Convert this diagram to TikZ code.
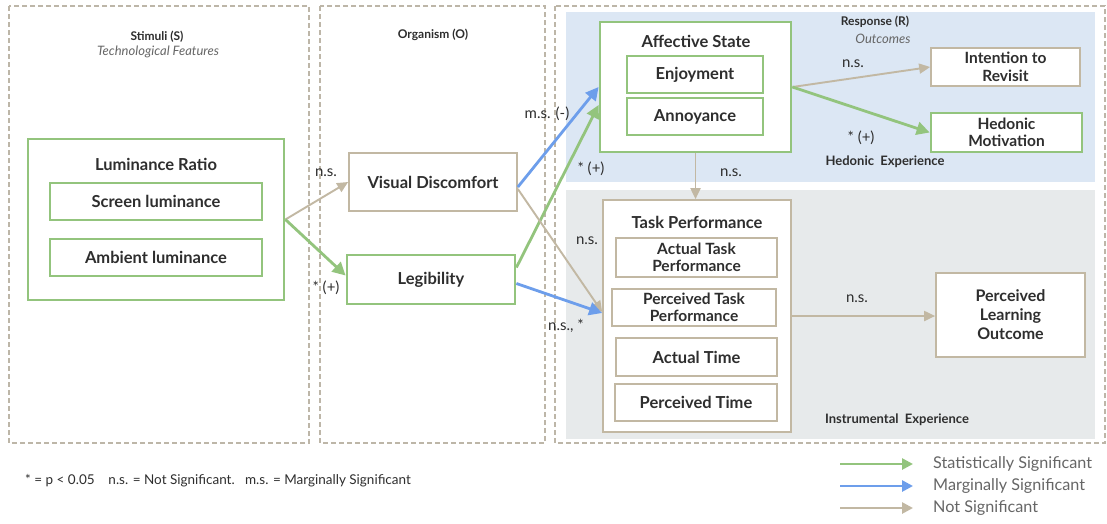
\documentclass[tikz,border=0pt]{standalone}
\usepackage{fontspec}
\setmainfont{Lato}
\usetikzlibrary{arrows.meta,calc}

\definecolor{sig}{HTML}{93C47D}
\definecolor{marg}{HTML}{6D9EEB}
\definecolor{nsig}{HTML}{C2B8A3}
\definecolor{panelline}{HTML}{BDB6A8}
\definecolor{hedbg}{HTML}{DCE7F4}
\definecolor{insbg}{HTML}{E7EAEB}
\definecolor{txt}{HTML}{2E2E2E}
\definecolor{subtxt}{HTML}{666666}

\tikzset{
  panel/.style={draw=panelline, line width=1.2pt, dash pattern=on 5pt off 3pt},
  gbox/.style={draw=sig, line width=2.8pt, fill=white, inner sep=0pt, align=center,
    text=txt, font=\bfseries\fontsize{16.5}{18}\selectfont},
  tbox/.style={draw=nsig, line width=1.7pt, fill=white, inner sep=0pt, align=center,
    text=txt, font=\bfseries\fontsize{16.5}{18}\selectfont},
  twoline/.style={font=\bfseries\fontsize{15.5}{17.5}\selectfont},
  boxtitle/.style={inner sep=0pt, text=txt, font=\bfseries\fontsize{16.5}{18}\selectfont},
  head/.style={inner sep=0pt, text=txt, font=\bfseries\fontsize{12}{14}\selectfont},
  subhead/.style={inner sep=0pt, text=subtxt, font=\itshape\fontsize{13}{15}\selectfont},
  lbl/.style={inner sep=0pt, text=txt, font=\fontsize{15}{17}\selectfont},
  sigarrow/.style={draw=sig, line width=2.8pt, -{Triangle[length=13pt,width=13pt]}},
  margarrow/.style={draw=marg, line width=2.8pt, -{Triangle[length=13pt,width=13pt]}},
  nsarrow/.style={draw=nsig, line width=1.9pt, -{Triangle[length=11pt,width=10pt]}},
  legtext/.style={anchor=west, inner sep=0pt, text=subtxt, font=\fontsize{16.2}{18}\selectfont},
}

\begin{document}
\begin{tikzpicture}[x=1pt,y=-1pt]
\useasboundingbox[fill=white] (0,0) rectangle (1107,523);

% experience backgrounds
\fill[hedbg] (566,12) rectangle (1095,182);
\fill[insbg] (566,190) rectangle (1095,439);

% S-O-R panels
\draw[panel] (9,6) rectangle (309,443);
\draw[panel] (320,6) rectangle (545,443);
\draw[panel] (555,6) rectangle (1105,443);

\node[head] (hS) at (157,37) {Stimuli (S)};
\node[subhead] (sS) at (158,52) {Technological Features};
\node[head] (hO) at (433,35) {Organism (O)};
\node[head] (hR) at (875,22) {Response (R)};
\node[subhead] (sR) at (883,39) {Outcomes};

% stimulus
\node[gbox, minimum width=256pt, minimum height=161pt] (lum) at (156,219.5) {};
\node[boxtitle] (lumt) at (156,164) {Luminance Ratio};
\node[gbox, minimum width=212pt, minimum height=37pt] (scr) at (156,201.5) {Screen luminance};
\node[gbox, minimum width=212pt, minimum height=37pt] (amb) at (156,257.5) {Ambient luminance};

% organism
\node[tbox, minimum width=168pt, minimum height=58pt] (vd) at (433,182) {Visual Discomfort};
\node[gbox, minimum width=168pt, minimum height=49pt] (leg) at (431,279.5) {Legibility};

% hedonic responses
\node[gbox, minimum width=191pt, minimum height=130pt] (aff) at (695.5,87) {};
\node[boxtitle] (afft) at (696,41) {Affective State};
\node[gbox, minimum width=136pt, minimum height=37pt] (enj) at (695,74.5) {Enjoyment};
\node[gbox, minimum width=136pt, minimum height=37pt] (ann) at (695,116.5) {Annoyance};
\node[tbox, twoline, minimum width=149pt, minimum height=38pt] (int) at (1005.5,67) {Intention to\\Revisit};
\node[gbox, twoline, minimum width=151pt, minimum height=39pt] (hed) at (1006.5,132.5) {Hedonic\\Motivation};
\node[head, font=\bfseries\fontsize{13}{15}\selectfont] (hedx) at (885,162) {Hedonic\ \ Experience};

% instrumental responses
\node[tbox, minimum width=188pt, minimum height=232pt] (task) at (697,316) {};
\node[boxtitle] (taskt) at (697,222) {Task Performance};
\node[tbox, twoline, minimum width=161pt, minimum height=39pt] (atp) at (696.5,257.5) {Actual Task\\Performance};
\node[tbox, twoline, minimum width=164pt, minimum height=37pt] (ptp) at (694,307.5) {Perceived Task\\Performance};
\node[tbox, minimum width=161pt, minimum height=38pt] (at) at (696.5,357) {Actual Time};
\node[tbox, minimum width=162pt, minimum height=37pt] (pt) at (696,402.5) {Perceived Time};
\node[tbox, twoline, minimum width=149pt, minimum height=84pt, font=\bfseries\fontsize{16}{19}\selectfont] (plo) at (1010.5,315) {Perceived\\Learning\\Outcome};
\node[head, font=\bfseries\fontsize{13}{15}\selectfont] (insx) at (897,420) {Instrumental\ \ Experience};

% paths
\draw[nsarrow] (lum.east) -- (vd.west);
\draw[sigarrow] (lum.east) -- ($(leg.west)+(0,-4)$);
\draw[margarrow] ($(vd.east)+(0,5)$) -- (aff.west);
\draw[sigarrow] ($(leg.east)+(0,-12)$) -- ($(aff.west)+(0,18)$);
\draw[nsarrow] ($(vd.east)+(0,7)$) -- ($(task.west)+(0,-4)$);
\draw[margarrow] ($(leg.east)+(0,4)$) -- ($(task.west)+(0,-3)$);
\draw[nsarrow] (aff.east) -- (int.west);
\draw[sigarrow] (aff.east) -- (hed.west);
\draw[nsarrow] (aff.south) -- (aff.south |- task.north);
\draw[nsarrow] (task.east) -- (task.east -| plo.west);

% path labels
\node[lbl] (l1) at (326,173) {n.s.};
\node[lbl] (l2) at (326,288) {* (+)};
\node[lbl] (l3) at (547,114) {m.s. (-)};
\node[lbl] (l4) at (591,169) {* (+)};
\node[lbl] (l5) at (587,241) {n.s.};
\node[lbl] (l6) at (566,326) {n.s., *};
\node[lbl] (l7) at (853,64) {n.s.};
\node[lbl] (l8) at (861,138) {* (+)};
\node[lbl] (l9) at (731,173) {n.s.};
\node[lbl] (l10) at (857,299) {n.s.};

% footnote
\node[anchor=west, inner sep=0pt, text=txt, font=\fontsize{13.5}{15}\selectfont] (foot) at (25,481)
  {* = p < 0.05\ \ \ \ n.s. = Not Significant.\ \ \ m.s. = Marginally Significant};

% legend
\coordinate (g1) at (840,464); \coordinate (g2) at (913,464);
\coordinate (b1) at (840,486); \coordinate (b2) at (913,486);
\coordinate (t1) at (840,508); \coordinate (t2) at (913,508);
\draw[draw=sig, line width=2.6pt, -{Triangle[length=11pt,width=11pt]}] (g1) -- (g2);
\draw[draw=marg, line width=2.6pt, -{Triangle[length=11pt,width=11pt]}] (b1) -- (b2);
\draw[draw=nsig, line width=2.6pt, -{Triangle[length=11pt,width=11pt]}] (t1) -- (t2);
\node[legtext] (lg1) at (933,464) {Statistically Significant};
\node[legtext] (lg2) at (933,486) {Marginally Significant};
\node[legtext] (lg3) at (933,508) {Not Significant};
\end{tikzpicture}
\end{document}
